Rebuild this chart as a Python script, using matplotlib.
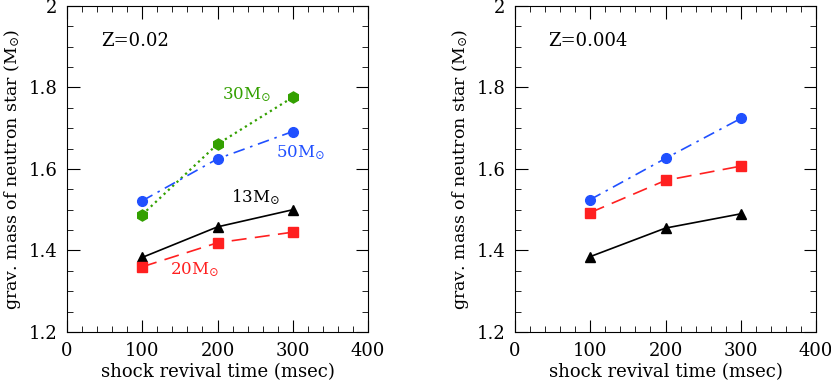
import matplotlib as mpl
mpl.use('Agg')
import matplotlib.pyplot as plt
from matplotlib.ticker import MultipleLocator

plt.rcParams['font.family'] = 'DejaVu Serif'
plt.rcParams['mathtext.fontset'] = 'dejavuserif'

# shock revival time (msec)
t_revival = [100, 200, 300]

# Z = 0.02
z02_m13 = [1.383, 1.458, 1.500]
z02_m20 = [1.360, 1.419, 1.445]
z02_m30 = [1.488, 1.661, 1.776]
z02_m50 = [1.522, 1.625, 1.692]

# Z = 0.004
z004_m13 = [1.385, 1.455, 1.490]
z004_m20 = [1.493, 1.572, 1.607]
z004_m50 = [1.525, 1.626, 1.724]

BLACK = 'black'
RED = '#ff2020'
GREEN = '#33a000'
BLUE = '#2050ff'
MSUN = r'M$_{\odot}$'
LW = 1.2


def style_axes(ax, zlabel, zx):
    ax.set_xlim(0, 400)
    ax.set_ylim(1.2, 2.0)
    ax.xaxis.set_major_locator(MultipleLocator(100))
    ax.xaxis.set_minor_locator(MultipleLocator(20))
    ax.yaxis.set_major_locator(MultipleLocator(0.2))
    ax.yaxis.set_minor_locator(MultipleLocator(0.05))
    ax.yaxis.set_major_formatter(plt.FuncFormatter(lambda v, p: '%g' % round(v, 2)))
    ax.tick_params(which='both', direction='in', top=True, right=True, labelsize=13)
    ax.tick_params(which='major', length=9, pad=7)
    ax.tick_params(which='minor', length=4.5)
    ax.set_xlabel('shock revival time (msec)', fontsize=13)
    ax.set_ylabel('grav. mass of neutron star (' + MSUN + ')', fontsize=12.5)
    ax.xaxis.set_label_coords(0.5, -0.095)
    ax.yaxis.set_label_coords(-0.146, 0.5)
    ax.text(zx, 1.913, 'Z=' + zlabel, fontsize=13, ha='center', va='center')


fig = plt.figure(figsize=(8.31, 3.87), dpi=100)
ax1 = fig.add_axes([67/831, 1-332/387, 301/831, 326/387])
ax2 = fig.add_axes([515/831, 1-332/387, 301/831, 326/387])

# left panel, Z=0.02
ax1.plot(t_revival, z02_m13, '-', color=BLACK, marker='^', ms=7, lw=LW)
ax1.plot(t_revival, z02_m20, color=RED, marker='s', ms=7, lw=LW, dashes=(9, 5))
ax1.plot(t_revival, z02_m30, ':', color=GREEN, marker='h', ms=8, lw=1.6)
ax1.plot(t_revival, z02_m50, color=BLUE, marker='o', ms=7, lw=LW, dashes=(7, 3.5, 1.5, 3.5))
ax1.text(239, 1.783, '30' + MSUN, color=GREEN, fontsize=12, ha='center', va='center')
ax1.text(310, 1.641, '50' + MSUN, color=BLUE, fontsize=12, ha='center', va='center')
ax1.text(250, 1.530, '13' + MSUN, color=BLACK, fontsize=12, ha='center', va='center')
ax1.text(170, 1.353, '20' + MSUN, color=RED, fontsize=12, ha='center', va='center')
style_axes(ax1, '0.02', 90)

# right panel, Z=0.004
ax2.plot(t_revival, z004_m13, '-', color=BLACK, marker='^', ms=7, lw=LW)
ax2.plot(t_revival, z004_m20, color=RED, marker='s', ms=7, lw=LW, dashes=(9, 5))
ax2.plot(t_revival, z004_m50, color=BLUE, marker='o', ms=7, lw=LW, dashes=(7, 3.5, 1.5, 3.5))
style_axes(ax2, '0.004', 97)

fig.savefig('out.png', dpi=100)
